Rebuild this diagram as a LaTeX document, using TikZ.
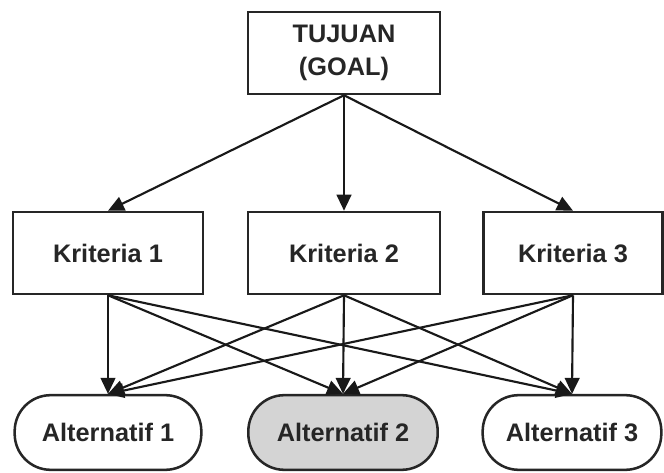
\documentclass[tikz,border=0pt]{standalone}
\usepackage{fontspec}
\setmainfont{Liberation Sans}
\usetikzlibrary{arrows.meta}
\begin{document}
\begin{tikzpicture}[x=0.75pt,y=-0.75pt,
  box/.style={draw=black!85,line width=1.9pt,fill=white,font=\bfseries\fontsize{19}{25}\selectfont,text=black!85,align=center,inner sep=0pt,minimum height=61.5pt},
  alt/.style={draw=black!85,line width=1.9pt,fill=white,rounded corners=27pt,font=\bfseries\fontsize{19}{25}\selectfont,text=black!85,inner sep=0pt,minimum height=56pt},
  conn/.style={draw=black!90,line width=1.6pt,-{Triangle[length=12pt,width=11pt]}}]
\useasboundingbox (0,0) rectangle (664,473);
\node[box,minimum width=144pt] (goal) at (344,53) {TUJUAN\\(GOAL)};
\node[box,minimum width=142.5pt] (k1) at (108,253) {Kriteria 1};
\node[box,minimum width=144pt] (k2) at (344,253) {Kriteria 2};
\node[box,minimum width=134pt] (k3) at (573,253) {Kriteria 3};
\node[alt,minimum width=140pt] (a1) at (108,432.5) {Alternatif 1};
\node[alt,minimum width=142pt,fill=black!17] (a2) at (343,432.5) {Alternatif 2};
\node[alt,minimum width=134pt] (a3) at (572,432.5) {Alternatif 3};
\foreach \k in {k1,k2,k3} \draw[conn] (goal.south) -- (\k.north);
\foreach \k in {k1,k2,k3}
  \foreach \a in {a1,a2,a3}
    \draw[conn] (\k.south) -- (\a.north);
\end{tikzpicture}
\end{document}
